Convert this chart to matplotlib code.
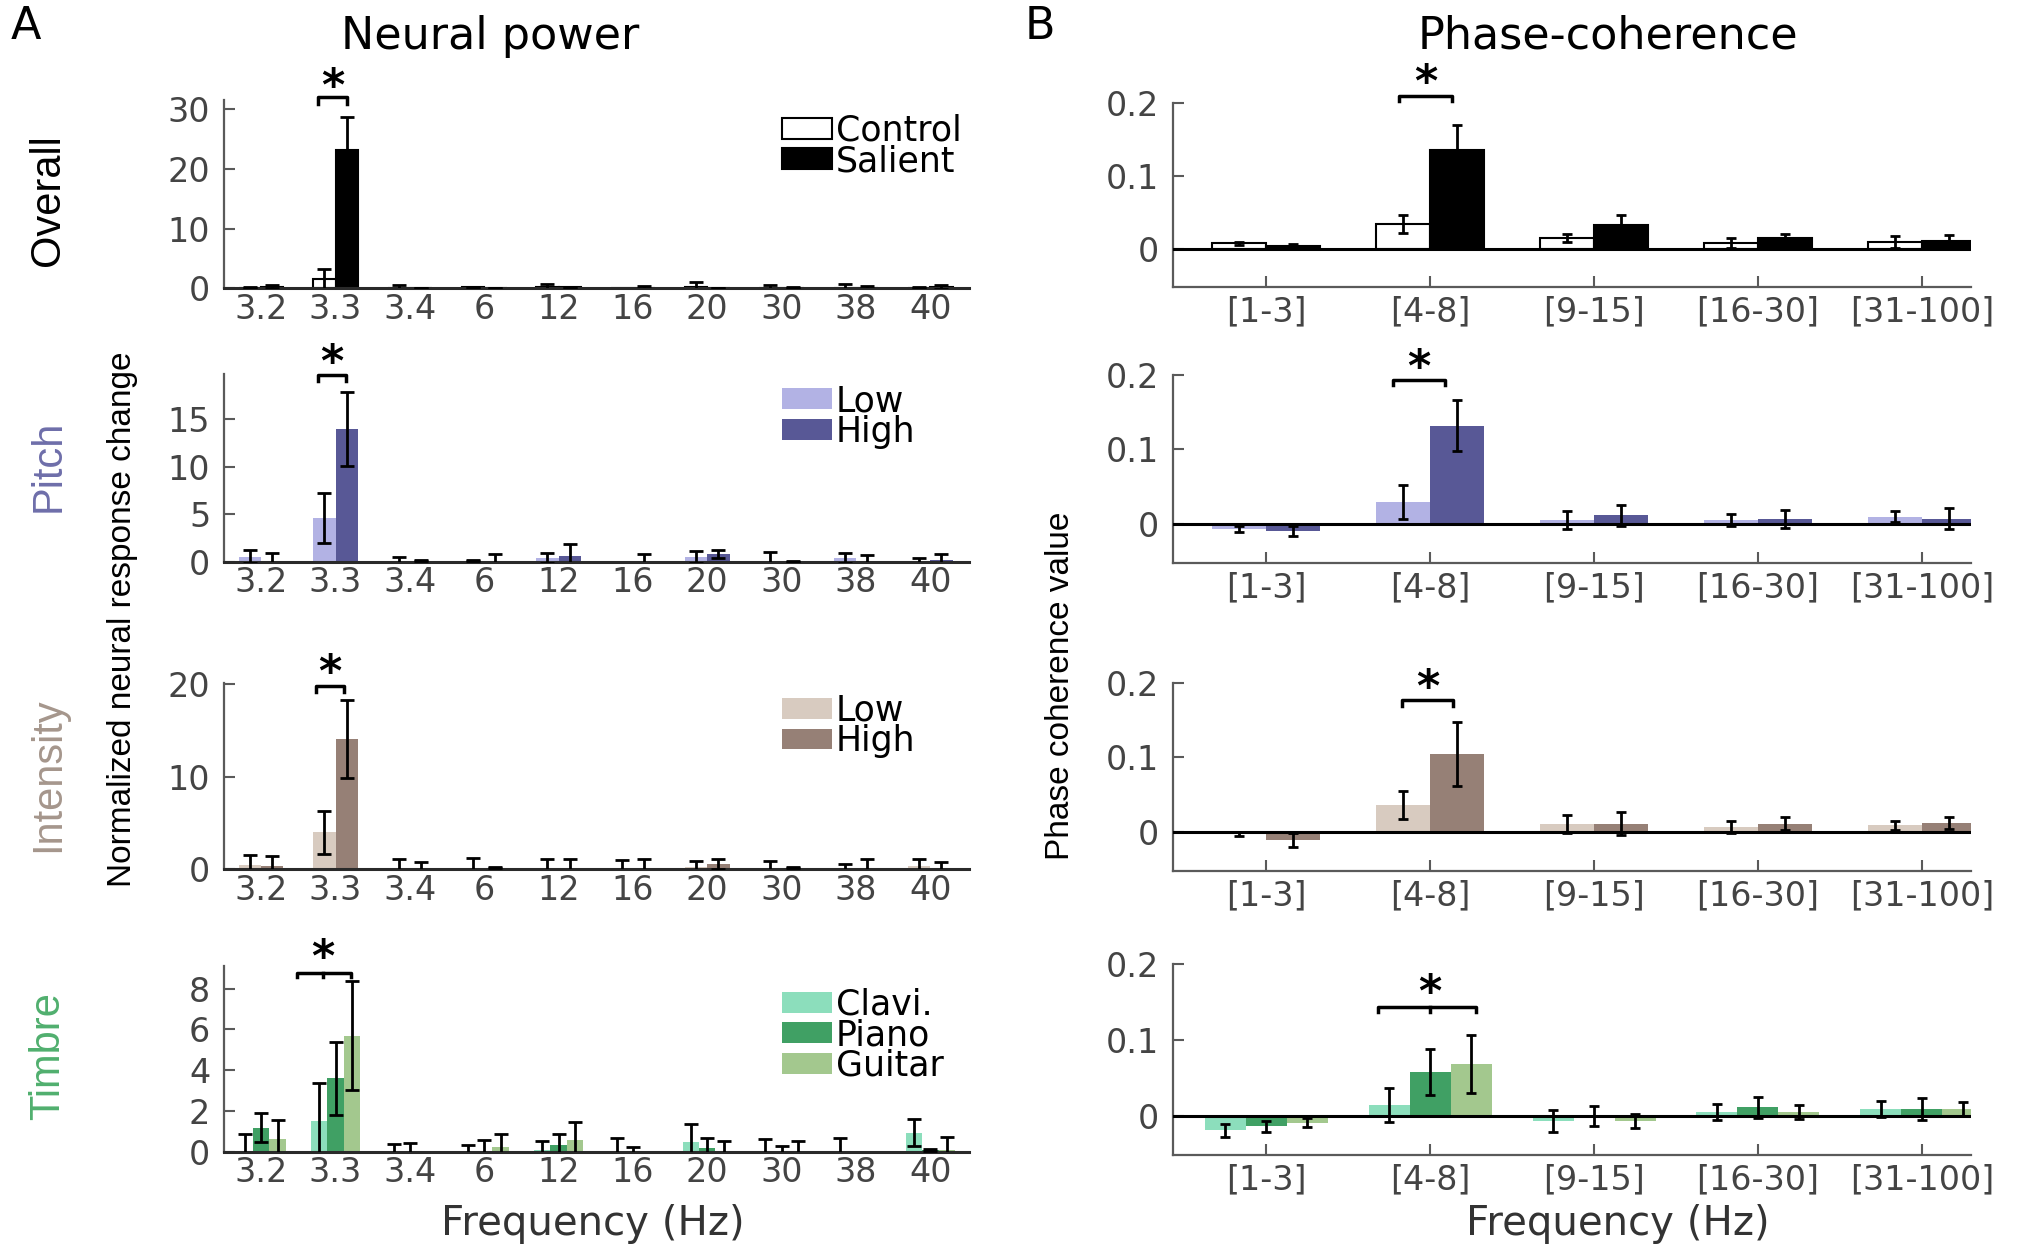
import numpy as np
import matplotlib.pyplot as plt

plt.rcParams['font.family'] = 'DejaVu Sans'

# ---- data ----
freq_labels = ['3.2', '3.3', '3.4', '6', '12', '16', '20', '30', '38', '40']
band_labels = ['[1-3]', '[4-8]', '[9-15]', '[16-30]', '[31-100]']

# Neural power (left column)
pow_ctrl = [0.1, 1.5, 0.1, 0.2, 0.2, 0.0, 0.3, 0.1, 0.1, 0.1]
pow_ctrl_err = [0.1, 1.8, 0.5, 0.1, 0.5, 0.0, 0.7, 0.4, 0.7, 0.1]
pow_sal = [0.3, 23.2, 0.05, 0.05, 0.2, 0.1, 0.1, 0.1, 0.1, 0.2]
pow_sal_err = [0.3, 5.5, 0.05, 0.05, 0.1, 0.3, 0.05, 0.1, 0.3, 0.3]

pow_pitch_low = [0.5, 4.6, 0.0, 0.1, 0.4, 0.0, 0.5, 0.05, 0.4, 0.05]
pow_pitch_low_err = [0.7, 2.6, 0.5, 0.05, 0.5, 0.0, 0.6, 0.95, 0.5, 0.35]
pow_pitch_high = [0.1, 14.0, 0.1, 0.1, 0.6, 0.05, 0.8, 0.05, 0.1, 0.2]
pow_pitch_high_err = [0.8, 3.9, 0.05, 0.7, 1.2, 0.75, 0.45, 0.05, 0.6, 0.6]

pow_int_low = [0.5, 4.0, 0.05, 0.2, 0.1, 0.05, 0.3, 0.05, 0.05, 0.4]
pow_int_low_err = [1.1, 2.3, 1.05, 1.0, 1.0, 0.95, 0.6, 0.85, 0.55, 0.7]
pow_int_high = [0.4, 14.0, 0.05, 0.2, 0.1, 0.2, 0.6, 0.2, 0.1, 0.1]
pow_int_high_err = [1.0, 4.2, 0.75, 0.05, 1.0, 0.9, 0.5, 0.05, 1.0, 0.7]

pow_clavi = [0.0, 1.5, 0.0, 0.0, 0.1, 0.05, 0.5, 0.0, 0.0, 0.95]
pow_clavi_err = [0.9, 1.9, 0.4, 0.35, 0.45, 0.65, 0.85, 0.65, 0.7, 0.65]
pow_piano = [1.2, 3.6, 0.0, 0.05, 0.35, 0.0, 0.2, 0.05, 0.0, 0.1]
pow_piano_err = [0.7, 1.8, 0.45, 0.55, 0.55, 0.25, 0.5, 0.25, 0.0, 0.05]
pow_guitar = [0.65, 5.7, 0.0, 0.25, 0.6, 0.0, 0.05, 0.0, 0.0, 0.1]
pow_guitar_err = [0.9, 2.65, 0.0, 0.65, 0.85, 0.0, 0.5, 0.55, 0.0, 0.65]

# Phase coherence (right column)
pc_ctrl = [0.008, 0.034, 0.015, 0.008, 0.010]
pc_ctrl_err = [0.002, 0.012, 0.006, 0.007, 0.008]
pc_sal = [0.0045, 0.136, 0.033, 0.015, 0.011]
pc_sal_err = [0.003, 0.034, 0.014, 0.006, 0.008]

pc_pitch_low = [-0.007, 0.030, 0.006, 0.006, 0.010]
pc_pitch_low_err = [0.004, 0.023, 0.012, 0.008, 0.007]
pc_pitch_high = [-0.009, 0.132, 0.012, 0.007, 0.007]
pc_pitch_high_err = [0.0065, 0.034, 0.014, 0.012, 0.014]

pc_int_low = [-0.003, 0.036, 0.011, 0.006, 0.009]
pc_int_low_err = [0.003, 0.019, 0.012, 0.008, 0.006]
pc_int_high = [-0.011, 0.104, 0.011, 0.011, 0.012]
pc_int_high_err = [0.009, 0.043, 0.015, 0.009, 0.008]

pc_clavi = [-0.019, 0.014, -0.007, 0.005, 0.009]
pc_clavi_err = [0.0085, 0.022, 0.0145, 0.010, 0.011]
pc_piano = [-0.014, 0.058, 0.0, 0.011, 0.009]
pc_piano_err = [0.0078, 0.030, 0.0135, 0.014, 0.014]
pc_guitar = [-0.009, 0.068, -0.007, 0.005, 0.009]
pc_guitar_err = [0.0055, 0.038, 0.009, 0.009, 0.009]

# ---- colours ----
c_pitch = ['#b2b2e4', '#585896']
c_int = ['#d8cbc0', '#968076']
c_tim = ['#8cdebc', '#40a064', '#a3c88e']
tick_col = '#444444'
spine_col = '#5a5a5a'

fig = plt.figure(figsize=(20.2, 12.46), dpi=100)


def draw_bars(ax, vals, errs, colors, width, capsize, edges=None):
    n = len(vals)
    x = np.arange(len(vals[0]))
    for i in range(n):
        off = (i - (n - 1) / 2) * width
        ec = edges[i] if edges else 'none'
        ax.bar(x + off, vals[i], width, color=colors[i], edgecolor=ec,
               linewidth=1.5 if edges else 0, zorder=2)
    for i in range(n):
        off = (i - (n - 1) / 2) * width
        e = np.array(errs[i])
        v = np.array(vals[i])
        keep = e > 0
        ax.errorbar((x + off)[keep], v[keep], yerr=e[keep], fmt='none',
                    ecolor='black', elinewidth=2, capsize=capsize,
                    capthick=2, zorder=3)


def sig(ax, x0, x1, y, drop, ystar, mid=None):
    ax.plot([x0, x0, x1, x1], [y - drop, y, y, y - drop], color='black',
            lw=2.5, clip_on=False, zorder=4)
    if mid is not None:
        ax.plot([mid, mid], [y, y - drop], color='black', lw=2.5,
                clip_on=False, zorder=4)
        xs = mid
    else:
        xs = (x0 + x1) / 2
    ax.text(xs, ystar, '*', ha='center', va='center', fontsize=32,
            fontweight='bold', clip_on=False)


def style_left(ax, ylim, yticks):
    ax.set_xlim(-0.5, 9.52)
    ax.set_ylim(*ylim)
    ax.set_xticks(range(len(freq_labels)))
    ax.set_xticklabels(freq_labels)
    ax.set_yticks(yticks)
    for s in ['top', 'right']:
        ax.spines[s].set_visible(False)
    ax.spines['left'].set_color(spine_col)
    ax.spines['left'].set_linewidth(1.6)
    ax.spines['bottom'].set_color('#2a2a2a')
    ax.spines['bottom'].set_linewidth(2.2)
    ax.tick_params(axis='y', direction='in', length=8, width=1.5,
                   color=spine_col, labelsize=24, labelcolor=tick_col, pad=10)
    ax.tick_params(axis='x', length=0, labelsize=24, labelcolor=tick_col, pad=3)


def style_right(ax):
    ax.set_xlim(-0.57, 4.3)
    ax.set_ylim(-0.052, 0.2)
    ax.set_xticks(range(len(band_labels)))
    ax.set_xticklabels(band_labels)
    ax.set_yticks([0, 0.1, 0.2])
    ax.set_yticklabels(['0', '0.1', '0.2'])
    for s in ['top', 'right']:
        ax.spines[s].set_visible(False)
    for s in ['left', 'bottom']:
        ax.spines[s].set_color(spine_col)
        ax.spines[s].set_linewidth(1.6)
    ax.axhline(0, color='black', lw=2.2, zorder=3)
    ax.tick_params(direction='in', length=8, width=1.5, color=spine_col,
                   labelsize=24, labelcolor=tick_col)
    ax.tick_params(axis='y', pad=10)
    ax.tick_params(axis='x', pad=6)


def legend(ax, labels, colors, y, edges=None):
    handles = []
    for i, (lab, c) in enumerate(zip(labels, colors)):
        ec = edges[i] if edges else 'none'
        handles.append(plt.Rectangle((0, 0), 1, 1, facecolor=c, edgecolor=ec,
                                     linewidth=1.5 if edges else 0, label=lab))
    ax.legend(handles=handles, loc='center left', bbox_to_anchor=(0.749, y),
              frameon=False, fontsize=25, handlelength=1.45, handleheight=0.55,
              handletextpad=0.1, labelspacing=-0.1, borderpad=0,
              borderaxespad=0)


left_x, left_w = 0.1109, 0.3688
right_x, right_w = 0.5807, 0.395

# ---- A: neural power ----
ax = fig.add_axes([left_x, 0.7685, left_w, 0.1509])
draw_bars(ax, [pow_ctrl, pow_sal], [pow_ctrl_err, pow_sal_err],
          ['white', 'black'], 0.3, 5, edges=['black', 'black'])
style_left(ax, (0, 31.5), [0, 10, 20, 30])
sig(ax, 1 - 0.23, 1 + 0.16, 32.0, 1.1, 33.6)
legend(ax, ['Control', 'Salient'], ['white', 'black'], 0.758,
       edges=['black', 'black'])

ax = fig.add_axes([left_x, 0.5493, left_w, 0.1509])
draw_bars(ax, [pow_pitch_low, pow_pitch_high],
          [pow_pitch_low_err, pow_pitch_high_err], c_pitch, 0.3, 5)
style_left(ax, (0, 19.8), [0, 5, 10, 15])
sig(ax, 1 - 0.23, 1 + 0.14, 19.7, 0.7, 20.9)
legend(ax, ['Low', 'High'], c_pitch, 0.772)

ax = fig.add_axes([left_x, 0.3022, left_w, 0.1499])
draw_bars(ax, [pow_int_low, pow_int_high],
          [pow_int_low_err, pow_int_high_err], c_int, 0.3, 5)
style_left(ax, (0, 20.1), [0, 10, 20])
sig(ax, 1 - 0.26, 1 + 0.11, 19.75, 0.7, 21.1)
legend(ax, ['Low', 'High'], c_int, 0.768)

ax = fig.add_axes([left_x, 0.0754, left_w, 0.1493])
draw_bars(ax, [pow_clavi, pow_piano, pow_guitar],
          [pow_clavi_err, pow_piano_err, pow_guitar_err], c_tim, 0.22, 5)
style_left(ax, (0, 9.1), [0, 2, 4, 6, 8])
sig(ax, 1 - 0.52, 1 + 0.21, 8.76, 0.2, 9.45, mid=1 - 0.17)
legend(ax, ['Clavi.', 'Piano', 'Guitar'], c_tim, 0.629)

# ---- B: phase coherence ----
ax = fig.add_axes([right_x, 0.7697, right_w, 0.1477])
draw_bars(ax, [pc_ctrl, pc_sal], [pc_ctrl_err, pc_sal_err],
          ['white', 'black'], 0.33, 3.5, edges=['black', 'black'])
style_right(ax)
sig(ax, 1 - 0.19, 1 + 0.13, 0.21, 0.007, 0.226)

ax = fig.add_axes([right_x, 0.5482, right_w, 0.151])
draw_bars(ax, [pc_pitch_low, pc_pitch_high],
          [pc_pitch_low_err, pc_pitch_high_err], c_pitch, 0.33, 3.5)
style_right(ax)
sig(ax, 1 - 0.23, 1 + 0.09, 0.193, 0.007, 0.209)

ax = fig.add_axes([right_x, 0.3012, right_w, 0.151])
draw_bars(ax, [pc_int_low, pc_int_high],
          [pc_int_low_err, pc_int_high_err], c_int, 0.33, 3.5)
style_right(ax)
sig(ax, 1 - 0.17, 1 + 0.14, 0.176, 0.007, 0.192)

ax = fig.add_axes([right_x, 0.0727, right_w, 0.154])
draw_bars(ax, [pc_clavi, pc_piano, pc_guitar],
          [pc_clavi_err, pc_piano_err, pc_guitar_err], c_tim, 0.25, 3.5)
style_right(ax)
sig(ax, 1 - 0.32, 1 + 0.28, 0.143, 0.006, 0.16, mid=1.0)

# ---- labels ----
fig.text(0.0128, 0.979, 'A', fontsize=32, ha='center', va='center')
fig.text(0.5146, 0.979, 'B', fontsize=32, ha='center', va='center')
fig.text(0.2425, 0.971, 'Neural power', fontsize=32, ha='center', va='center')
fig.text(0.796, 0.971, 'Phase-coherence', fontsize=32, ha='center',
         va='center')

rot_font = 'Liberation Sans'
fig.text(0.024, 0.8395, 'Overall', rotation=90, fontsize=30, ha='center',
         va='center', color='black', family=rot_font)
fig.text(0.024, 0.626, 'Pitch', rotation=90, fontsize=30, ha='center',
         va='center', color='#6e6eaa', family=rot_font)
fig.text(0.024, 0.378, 'Intensity', rotation=90, fontsize=30, ha='center',
         va='center', color='#a5968c', family=rot_font)
fig.text(0.024, 0.1525, 'Timbre', rotation=90, fontsize=30, ha='center',
         va='center', color='#50af6e', family=rot_font)

fig.text(0.0606, 0.5028, 'Normalized neural response change', rotation=90,
         fontsize=24, ha='center', va='center', family=rot_font)
fig.text(0.5248, 0.4495, 'Phase coherence value', rotation=90, fontsize=24,
         ha='center', va='center', family=rot_font)

fig.text(0.2933, 0.018, 'Frequency (Hz)', fontsize=29, ha='center',
         va='center', color='#333333')
fig.text(0.801, 0.018, 'Frequency (Hz)', fontsize=29, ha='center',
         va='center', color='#333333')

fig.savefig('out.png', dpi=100)
